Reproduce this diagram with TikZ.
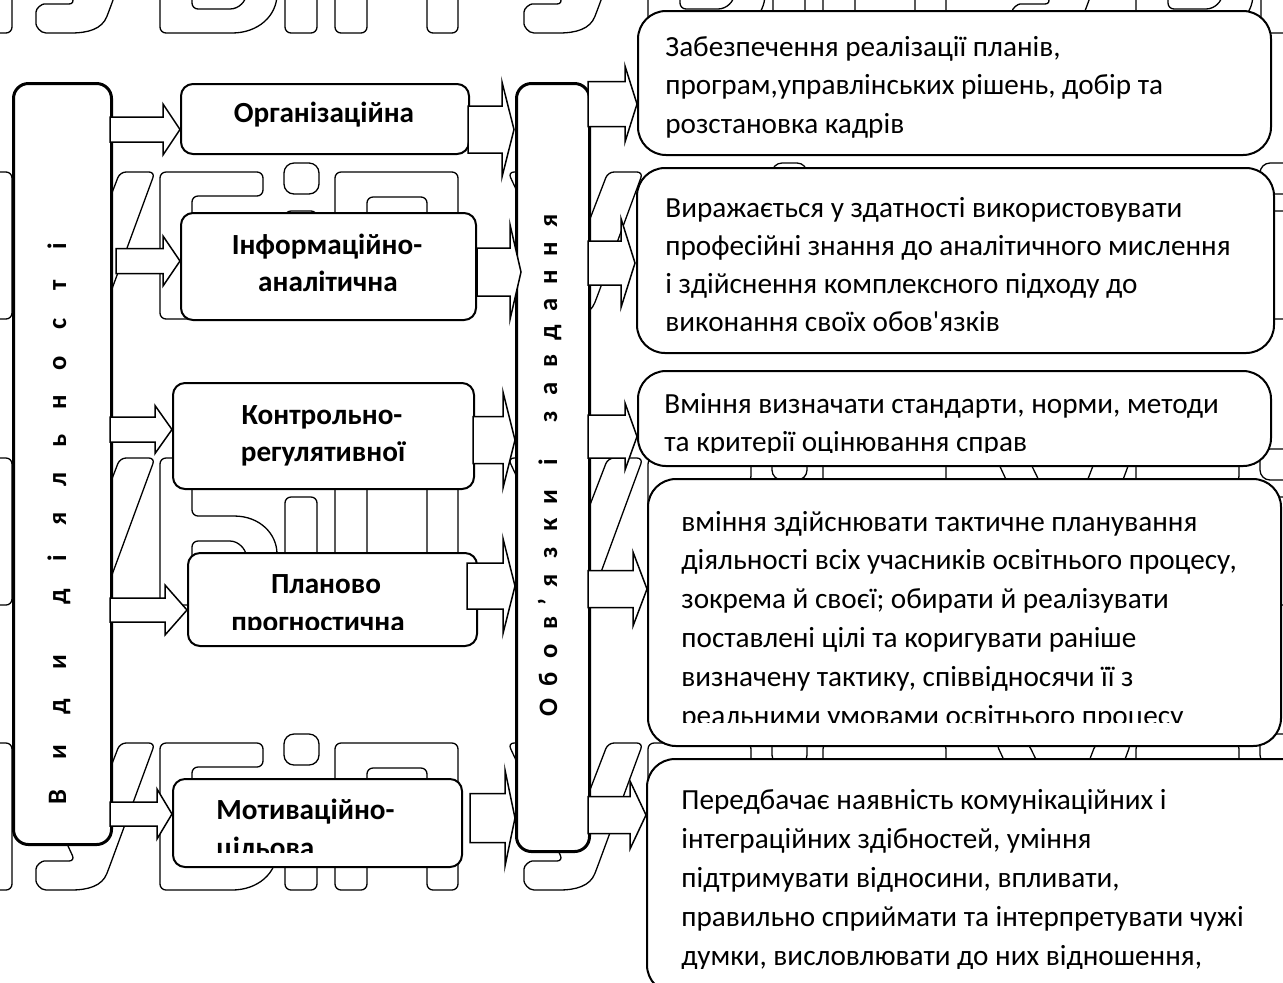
\documentclass[tikz,border=0pt]{standalone}
\usepackage{fontspec}
\setmainfont{Carlito}[Ligatures=TeXOff]
\newcommand\blockarr[6]{\draw[arr] (#1,{#4-#5}) -- (#2,{#4-#5}) -- (#2,{#4-#6}) -- (#3,#4) -- (#2,{#4+#6}) -- (#2,{#4+#5}) -- (#1,{#4+#5}) -- cycle;}
\newcommand\lb[2]{\makebox[#1pt]{#2}}
\begin{document}
\begin{tikzpicture}[x=0.5pt,y=-0.5pt,
  wm/.style={draw=black, line width=0.65pt, rounded corners=3pt},
  thickbox/.style={draw=black, line width=1.5pt, fill=white, rounded corners=7.5pt, inner sep=0pt, anchor=north west},
  midbox/.style={draw=black, line width=1pt, fill=white, rounded corners=6pt, inner sep=0pt, anchor=north west},
  rbox/.style={draw=black, line width=1pt, fill=white, rounded corners=14pt, inner sep=0pt, anchor=north west},
  arr/.style={draw=black, line width=0.75pt, fill=white, line join=miter},
  btxt/.style={font=\bfseries\fontsize{14.6}{18.5}\selectfont, inner sep=0pt, anchor=base},
  rtxt/.style={inner sep=0pt, anchor=base west},
  vtxt/.style={font=\bfseries\fontsize{13.3}{13}\selectfont, inner sep=0pt, anchor=base, rotate=90},
  pics/grp/.style={code={
    \draw[wm] (-140,0) -- (-108,0) -- (-70,78) -- (-40,0) -- (-5,0) -- (-51,125) .. controls (-58,143) and (-72,147) .. (-95,147) -- (-108,147) .. controls (-120,147) and (-124,140) .. (-124,132) .. controls (-124,122) and (-118,118) .. (-110,118) -- (-85,118) -- cycle;
    \draw[wm] (0,147) -- (0,0) -- (103,0) -- (103,24) -- (32,24) -- (32,58) -- (68,58) .. controls (100,58) and (117,76) .. (117,102) .. controls (117,130) and (98,147) .. (66,147) -- cycle;
    \draw[wm] (32,83) -- (64,83) .. controls (79,83) and (86,92) .. (86,103) .. controls (86,115) and (79,123) .. (64,123) -- (32,123) -- cycle;
    \draw[wm, rounded corners=5pt] (124,-9) rectangle (159,22);
    \draw[wm] (125,39) rectangle (157,147);
    \draw[wm] (175,147) -- (175,0) -- (298,0) -- (298,147) -- (267,147) -- (267,25) -- (207,25) -- (207,147) -- cycle;
  }},
]
\useasboundingbox (0,0) rectangle (1283,982);
\clip (0,0) rectangle (1283,982);

% watermark
\foreach \r in {-114,172,458,743}{
  \foreach \g in {160,648,1136}{ \pic at (\g,\r) {grp}; }
  \draw[wm] (-20,\r) rectangle (12,{\r+147});
}

% boxes
\node[thickbox, minimum width=49pt, minimum height=380.5pt] (L) at (12,82) {};
\node[thickbox, minimum width=36.5pt, minimum height=384pt] (M) at (515,82) {};
\node[midbox, minimum width=144pt, minimum height=35pt] (org) at (180,83) {};
\node[midbox, minimum width=147.5pt, minimum height=53.5pt] (inf) at (180,212) {};
\node[midbox, minimum width=150.5pt, minimum height=53pt] (kon) at (172,382) {};
\node[midbox, minimum width=144.5pt, minimum height=46.5pt] (plan) at (187,552) {};
\node[midbox, minimum width=144.5pt, minimum height=44pt] (mot) at (172,778) {};
\node[rbox, minimum width=316.5pt, minimum height=72pt] (r1) at (637,10) {};
\node[rbox, minimum width=318.5pt, minimum height=92.5pt] (r2) at (636,167) {};
\node[rbox, minimum width=316.5pt, minimum height=47.5pt] (r3) at (637,370) {};
\node[rbox, minimum width=316.5pt, minimum height=133.5pt] (r4) at (647,478) {};
\node[rbox, minimum width=332pt, minimum height=117pt] (r5) at (646,758) {};

% arrows: left box -> mid boxes
\blockarr{110}{163}{180}{129.5}{12.5}{25.5}
\blockarr{116}{163}{180}{261}{12.5}{25}
\blockarr{110}{155}{172}{429.5}{12.5}{24}
\blockarr{110}{165}{187}{610}{12}{25}
\blockarr{110}{157}{172}{814}{12}{25}
% mid boxes -> middle box
\blockarr{468}{502}{514}{129.5}{23.5}{47.5}
\blockarr{477}{510}{521}{272}{24}{47.5}
\blockarr{473}{503}{515}{440}{23.5}{48}
\blockarr{467}{503}{515}{586}{23}{47.5}
\blockarr{470}{505}{515}{818}{24.5}{48}
% middle box -> right boxes
\blockarr{588}{625}{637}{104}{22.5}{38}
\blockarr{588}{621}{635}{263}{22}{44.5}
\blockarr{588}{625}{637}{436.5}{21.5}{33.5}
\blockarr{588}{633}{647}{589}{18.5}{37}
\blockarr{588}{630}{646}{815}{18.5}{34}

% vertical texts
\node[vtxt] (tL) at (66,523) {\lb{22.5}{В}\lb{22.5}{и}\lb{22.5}{д}\lb{22.5}{и}\hspace{11.5pt}\lb{19.5}{д}\lb{19.5}{і}\lb{19.5}{я}\lb{19.5}{л}\lb{19.5}{ь}\lb{19.5}{н}\lb{19.5}{о}\lb{19.5}{с}\lb{19.5}{т}\lb{19.5}{і}};
\node[vtxt] (tM) at (557,464) {\lb{14}{О}\lb{14}{б}\lb{14}{о}\lb{14}{в}\lb{7}{’}\lb{14}{я}\lb{14}{з}\lb{14}{к}\lb{14}{и}\hspace{3.5pt}\lb{14}{і}\hspace{8.5pt}\lb{14}{з}\lb{14}{а}\lb{14}{в}\lb{14}{д}\lb{14}{а}\lb{14}{н}\lb{14}{н}\lb{14}{я}};

% mid box texts
\node[btxt] (torg) at (324,122) {Організаційна};
\node[btxt] (tinf1) at (327,254) {Інформаційно-};
\node[btxt] (tinf2) at (328,291) {аналітична};
\node[btxt] (tkon1) at (322,424) {Контрольно-};
\node[btxt] (tkon2) at (323,461) {регулятивної};
\node[btxt] (tplan1) at (326,593) {Планово};
\begin{scope}
  \clip (187,552) rectangle (476,629);
  \node[btxt] (tplan2) at (318,631) {прогностична};
\end{scope}
\node[btxt, anchor=base west] (tmot1) at (216,819) {Мотиваційно-};
\begin{scope}
  \clip (172,778) rectangle (461,852);
  \node[btxt, anchor=base west] (tmot2) at (216,857) {цільова};
\end{scope}

% right box texts
\node[rtxt, font=\fontsize{14.6}{19.2}\selectfont] (t1) at (665,56.5) {\vtop{\hbox{Забезпечення реалізації планів,}\hbox{програм,управлінських рішень, добір та}\hbox{розстановка кадрів}}};
\node[rtxt, font=\fontsize{14.6}{19.15}\selectfont] (t2) at (665,217) {\vtop{\hbox{Виражається у здатності використовувати}\hbox{професійні знання до аналітичного мислення}\hbox{і здійснення комплексного підходу до}\hbox{виконання своїх обов'язків}}};
\begin{scope}
  \clip (637,370) rectangle (1270,452);
  \node[rtxt, font=\fontsize{14.6}{19.3}\selectfont] (t3) at (664,413) {\vtop{\hbox{Вміння визначати стандарти, норми, методи}\hbox{та критерії оцінювання справ}}};
\end{scope}
\begin{scope}
  \clip (647,478) rectangle (1280,722);
  \node[rtxt, font=\fontsize{14.6}{19.4}\selectfont] (t4) at (681,531) {\vtop{\hbox{вміння здійснювати тактичне планування}\hbox{діяльності всіх учасників освітнього процесу,}\hbox{зокрема й своєї; обирати й реалізувати}\hbox{поставлені цілі та коригувати раніше}\hbox{визначену тактику, співвідносячи її з}\hbox{реальними умовами освітнього процесу}}};
\end{scope}
\begin{scope}
  \clip (646,758) rectangle (1283,968);
  \node[rtxt, font=\fontsize{14.6}{19.5}\selectfont] (t5) at (681,809.5) {\vtop{\hbox{Передбачає наявність комунікаційних і}\hbox{інтеграційних здібностей, уміння}\hbox{підтримувати відносини, впливати,}\hbox{правильно сприймати та інтерпретувати чужі}\hbox{думки, висловлювати до них відношення,}}};
\end{scope}
\end{tikzpicture}
\end{document}
